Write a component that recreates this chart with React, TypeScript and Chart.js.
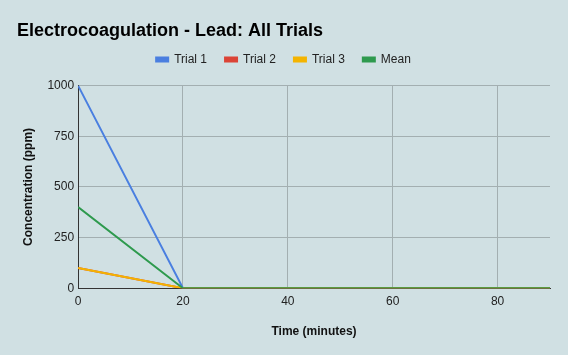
import React, { useEffect, useRef } from "react";
import { Chart, registerables } from "chart.js";

Chart.register(...registerables);

const times = [0, 20, 40, 60, 90];
const trial1 = [1000, 0, 0, 0, 0];
const trial2 = [100, 0, 0, 0, 0];
const trial3 = [100, 0, 0, 0, 0];
const mean = [400, 0, 0, 0, 0];
const seriesNames = ["Trial 1", "Trial 2", "Trial 3", "Mean"];
const seriesColors = ["#4a7fe0", "#db4437", "#f4b400", "#2e9a4e"];
const yTicks = [0, 250, 500, 750, 1000];
const xTicks = [0, 20, 40, 60, 80];

const FONT = "'Liberation Sans', Arial, sans-serif";

export default function App() {
  const ref = useRef<HTMLCanvasElement | null>(null);
  useEffect(() => {
    document.body.style.margin = "0";
    const bg = {
      id: "bg",
      beforeDraw(c: any) {
        const ctx = c.ctx;
        ctx.save();
        ctx.fillStyle = "#d0e0e3";
        ctx.fillRect(0, 0, c.width, c.height);
        ctx.restore();
      },
    };
    const legendGap = {
      id: "legendGap",
      beforeInit(c: any) {
        const orig = c.legend.fit;
        c.legend.fit = function () {
          orig.call(this);
          this.height += 10;
        };
      },
    };
    const all = [trial1, trial2, trial3, mean];
    const chart = new Chart(ref.current!, {
      type: "line",
      data: {
        datasets: all.map((vals, i) => ({
          label: seriesNames[i],
          data: times.map((t, j) => ({ x: t, y: vals[j] })),
          borderColor: seriesColors[i],
          backgroundColor: seriesColors[i],
          borderWidth: 2,
          pointRadius: 0,
          tension: 0,
          order: 4 - i,
        })),
      },
      options: {
        responsive: false,
        animation: false,
        layout: { padding: { left: 17, right: 18, top: 16, bottom: 12 } },
        plugins: {
          title: {
            display: true,
            text: "Electrocoagulation - Lead: All Trials",
            align: "start",
            color: "#000",
            font: { family: FONT, size: 18, weight: "bold" },
            padding: { top: 4, bottom: -6 },
          },
          legend: {
            position: "top",
            labels: {
              boxWidth: 12,
              boxHeight: 4,
              color: "#222",
              font: { family: FONT, size: 12 },
              padding: 18,
              sort: (a: any, b: any) => a.datasetIndex - b.datasetIndex,
            },
          },
          tooltip: { enabled: false },
        },
        scales: {
          x: {
            type: "linear",
            min: 0,
            max: 90,
            afterBuildTicks: (s: any) => {
              s.ticks = xTicks.map((v) => ({ value: v }));
            },
            ticks: {
              color: "#222",
              font: { family: FONT, size: 12 },
              padding: 6,
              callback: (v: any) => String(v),
            },
            grid: {
              color: (c: any) => (c.tick && c.tick.value === 0 ? "rgba(0,0,0,0)" : "#a3afb1"),
              drawTicks: false,
            },
            border: { display: true, color: "#333", width: 1 },
            title: {
              display: true,
              text: "Time (minutes)",
              color: "#111",
              font: { family: FONT, size: 12, weight: "bold" },
              padding: { top: 10 },
            },
          },
          y: {
            min: 0,
            max: 1000,
            afterBuildTicks: (s: any) => {
              s.ticks = yTicks.map((v) => ({ value: v }));
            },
            ticks: {
              color: "#222",
              font: { family: FONT, size: 12 },
              padding: 4,
              callback: (v: any) => String(v),
            },
            grid: {
              color: (c: any) => (c.tick && c.tick.value === 0 ? "rgba(0,0,0,0)" : "#a3afb1"),
              drawTicks: false,
            },
            border: { display: true, color: "#333", width: 1 },
            title: {
              display: true,
              text: "Concentration (ppm)",
              color: "#111",
              font: { family: FONT, size: 12, weight: "bold" },
              padding: { bottom: 8 },
            },
          },
        },
      },
      plugins: [bg, legendGap],
    } as any);
    return () => chart.destroy();
  }, []);
  return <canvas ref={ref} width={568} height={355} style={{ display: "block" }} />;
}
